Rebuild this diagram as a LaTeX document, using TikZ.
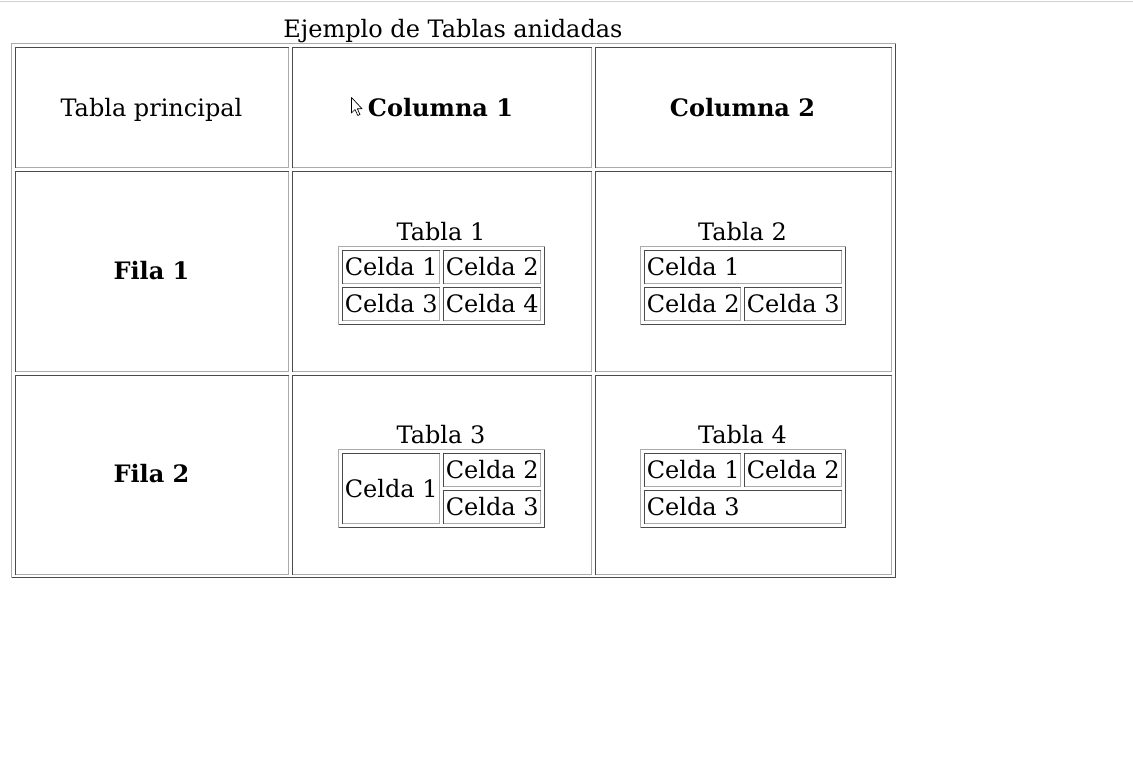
\documentclass[tikz,border=0pt]{standalone}
\usepackage{fontspec}
\setmainfont{DejaVu Serif}
\usetikzlibrary{fit}
\definecolor{bdark}{HTML}{4A4A4A}
\definecolor{blight}{HTML}{ABABAB}
\definecolor{topline}{HTML}{D2D0CE}
\tikzset{
  dk/.style={draw=bdark, line width=0.75pt},
  lt/.style={draw=blight, line width=0.75pt},
  txt/.style={font=\fontsize{18pt}{21pt}\selectfont, inner sep=0pt, anchor=base},
  btxt/.style={font=\fontsize{18pt}{21pt}\selectfont\bfseries, inner sep=0pt, anchor=base},
  ctxt/.style={font=\fontsize{18pt}{21pt}\selectfont, inner sep=0pt, anchor=base west},
  boxn/.style={inner sep=0pt, outer sep=0pt}
}
% name, x1, y1, x2, y2 ; inset cell: dark top/left, light bottom/right
\newcommand\incell[5]{%
  \node[boxn, fit={(#2,#3)(#4,#5)}] (#1) {};
  \draw[dk] (#1.south west) |- (#1.north east);
  \draw[lt] (#1.north east) |- (#1.south west);
}
% outset table border: light top/left, dark bottom/right
\newcommand\outtable[5]{%
  \node[boxn, fit={(#2,#3)(#4,#5)}] (#1) {};
  \draw[lt] (#1.south west) |- (#1.north east);
  \draw[dk] (#1.north east) |- (#1.south west);
}
\begin{document}
\begin{tikzpicture}[x=0.75pt, y=-0.75pt]
\useasboundingbox[fill=white] (0,0) rectangle (1133,757);
\coordinate (tl0) at (0,1.5);
\coordinate (tl1) at (1133,1.5);
\draw[draw=topline, line width=1.2pt] (tl0) -- (tl1);

% title
\node[txt] (title) at (453,37) {Ejemplo de Tablas anidadas};

% main table
\outtable{main}{11.5}{43.5}{895.5}{577.5}
\incell{c00}{15.5}{47.5}{288.5}{167.5}
\incell{c01}{292.5}{47.5}{591.5}{167.5}
\incell{c02}{595.5}{47.5}{891.5}{167.5}
\incell{c10}{15.5}{171.5}{288.5}{371.5}
\incell{c11}{292.5}{171.5}{591.5}{371.5}
\incell{c12}{595.5}{171.5}{891.5}{371.5}
\incell{c20}{15.5}{375.5}{288.5}{574.5}
\incell{c21}{292.5}{375.5}{591.5}{574.5}
\incell{c22}{595.5}{375.5}{891.5}{574.5}

\node[txt] (h0) at (151.5,116.5) {Tabla principal};
\node[btxt] (h1) at (440.5,116.5) {Columna 1};
\node[btxt] (h2) at (742.5,116.5) {Columna 2};
\node[btxt] (r1) at (151.5,279.5) {Fila 1};
\node[btxt] (r2) at (151.5,482.5) {Fila 2};

% cursor
\filldraw[fill=white, draw=black, line width=0.5pt, line join=round]
  (351.5,97.5) -- (351.5,113) -- (355,109.5) -- (357.8,115.5) -- (360,114.5) -- (357.3,108.7) -- (362,108.7) -- cycle;

% Tabla 1
\node[txt] (cap1) at (441,240.5) {Tabla 1};
\outtable{ta}{338.5}{246.5}{544.5}{324.5}
\incell{ta11}{342.5}{250.5}{439.5}{283.5}
\incell{ta12}{443.5}{250.5}{540.5}{283.5}
\incell{ta21}{342.5}{287.5}{439.5}{320.5}
\incell{ta22}{443.5}{287.5}{540.5}{320.5}
\node[ctxt] (a1) at (344.5,275.5) {Celda 1};
\node[ctxt] (a2) at (445.5,275.5) {Celda 2};
\node[ctxt] (a3) at (344.5,312.5) {Celda 3};
\node[ctxt] (a4) at (445.5,312.5) {Celda 4};

% Tabla 2
\node[txt] (cap2) at (742.5,240.5) {Tabla 2};
\outtable{tb}{640.5}{246.5}{845.5}{324.5}
\incell{tb11}{644.5}{250.5}{841.5}{283.5}
\incell{tb21}{644.5}{287.5}{740.5}{320.5}
\incell{tb22}{744.5}{287.5}{841.5}{320.5}
\node[ctxt] (b1) at (646.5,275.5) {Celda 1};
\node[ctxt] (b2) at (646.5,312.5) {Celda 2};
\node[ctxt] (b3) at (746.5,312.5) {Celda 3};

% Tabla 3
\node[txt] (cap3) at (441,443.5) {Tabla 3};
\outtable{tc}{338.5}{449.5}{544.5}{527.5}
\incell{tc11}{342.5}{453.5}{439.5}{523.5}
\incell{tc12}{443.5}{453.5}{540.5}{486.5}
\incell{tc22}{443.5}{490.5}{540.5}{523.5}
\node[ctxt] (c1) at (344.5,497.5) {Celda 1};
\node[ctxt] (c2) at (445.5,478.5) {Celda 2};
\node[ctxt] (c3) at (445.5,515.5) {Celda 3};

% Tabla 4
\node[txt] (cap4) at (742.5,443.5) {Tabla 4};
\outtable{td}{640.5}{449.5}{845.5}{527.5}
\incell{td11}{644.5}{453.5}{740.5}{486.5}
\incell{td12}{744.5}{453.5}{841.5}{486.5}
\incell{td21}{644.5}{490.5}{841.5}{523.5}
\node[ctxt] (d1) at (646.5,478.5) {Celda 1};
\node[ctxt] (d2) at (746.5,478.5) {Celda 2};
\node[ctxt] (d3) at (646.5,515.5) {Celda 3};
\end{tikzpicture}
\end{document}
